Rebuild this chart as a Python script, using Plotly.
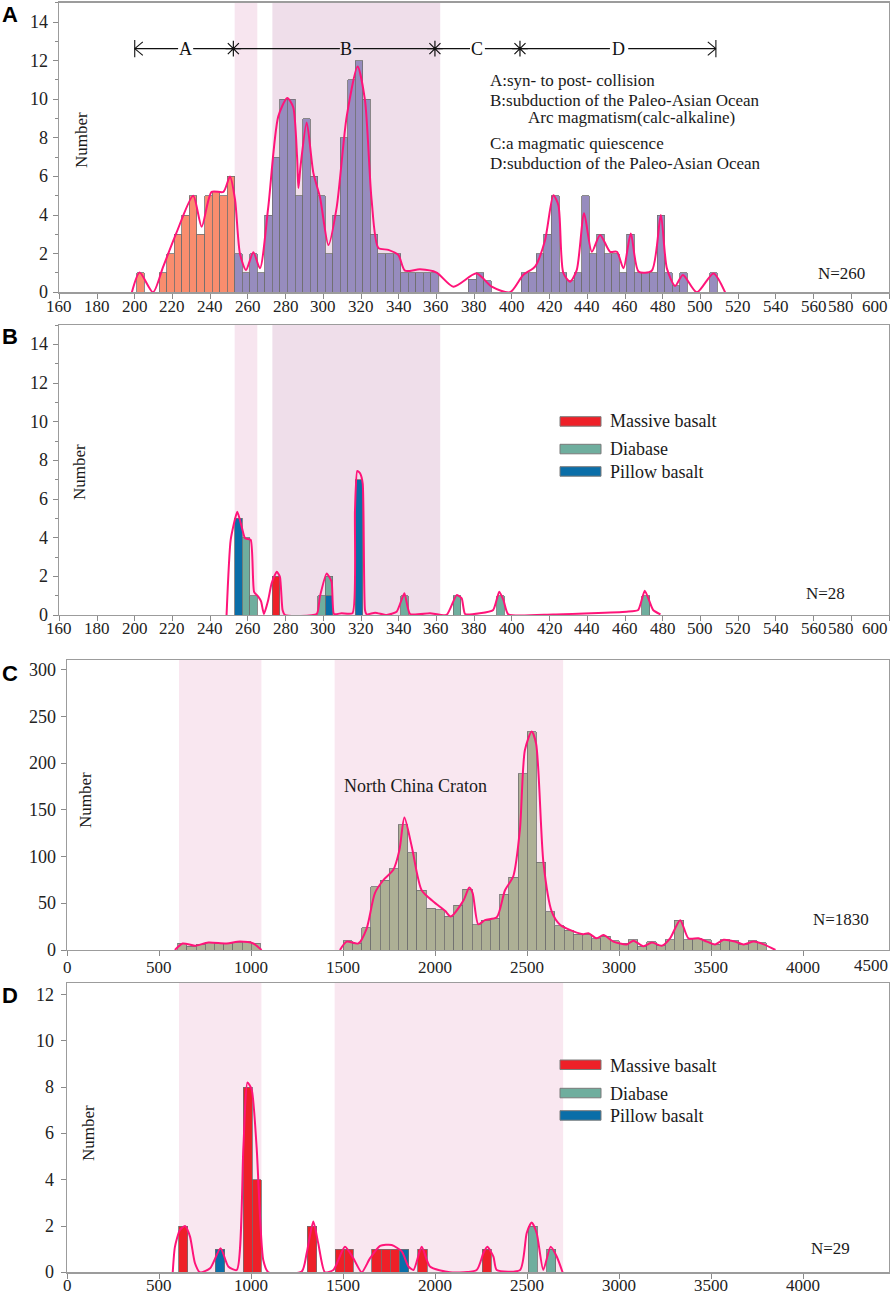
import plotly.graph_objects as go

W, H = 892, 1296

# ---------------- DATA ----------------
# Panel A histogram (bin width 4 Ma)
a_orange_x = [203, 215, 219, 223, 227, 231, 235, 239, 243, 247, 251]
a_orange_y = [1, 1, 2, 3, 4, 5, 3, 5, 5.2, 5, 6]
a_purple_x = [255, 259, 263, 267, 271, 275, 279, 283, 287, 291, 295, 299, 303, 307, 311,
              315, 319, 323, 327, 331, 335, 339, 343, 347, 351, 355, 359,
              379, 383, 387, 407, 411, 415, 419, 423, 427, 431, 435, 439, 443, 447, 451,
              455, 459, 463, 467, 471, 475, 479, 483, 487, 491, 507]
a_purple_y = [2, 1, 2, 1, 4, 7, 10, 10, 5, 9, 6, 5, 2, 4, 8,
              11, 12, 10, 3, 2, 2, 2, 1, 1, 1, 1, 1,
              0.67, 1, 0.6, 1, 1, 2, 3, 5, 1, 0.6, 1, 5, 2, 3, 2,
              2, 1, 3, 1, 1, 1, 4, 1, 0.33, 1, 1]
a_kde_x = [198.5, 202.6, 209.7, 215, 222, 231, 235.5, 240.8, 247, 250.5, 253.2, 255.8, 259,
           262.9, 266.4, 270.8, 276.1, 280.9, 284.0, 286.1, 286.8, 287.9, 291.2, 294.7, 298.3,
           302.7, 307.1, 312.4, 318.2, 322.1, 325.6, 329.2, 334.5, 339.8, 343.3, 351.3, 360.1,
           369, 381.3, 389.3, 399, 406, 412.3, 417.6, 422, 424.7, 427.3, 430.9, 434.4, 438.3,
           442.4, 446.8, 452.1, 455.7, 459.2, 463.1, 467.2, 474.2, 479, 482.2, 486.6, 490.7,
           498.1, 506.9, 513.1]
a_kde_y = [0, 1.02, 0, 1.3, 3.05, 5.0, 3.4, 5.2, 5.2, 6.0, 4.8, 2.0, 1.15,
           2.07, 1.24, 4.4, 9.1, 10.07, 9.6, 7.0, 5.4, 6.5, 8.8, 6.2, 4.9,
           2.45, 4.4, 9.1, 11.7, 9.95, 4.8, 2.3, 2.2, 1.93, 1.12, 1.19, 1.02,
           0.29, 0.98, 0.29, 0, 0.9, 1.33, 2.7, 5.03, 4.5, 1.0, 0.55, 1.15, 4.09,
           2.1, 2.97, 2.1, 2.1, 1.24, 3.05, 1.07, 1.12, 4.0, 1.24, 0.33, 0.9,
           0, 0.98, 0]

# Panel B stacked histogram by rock type
b_pillow_x = [255, 303, 319]
b_pillow_y = [5, 1, 7]
b_diabase_x = [259, 263, 299, 303, 343, 371, 394, 471]
b_diabase_y = [4, 1, 1, 1, 1, 1, 1, 1]
b_massive_x = [275]
b_massive_y = [2]
b_kde_x = [248.7, 250.9, 254.4, 256.7, 258.5, 261.5, 263.3, 265.5, 267, 268.5, 270.8, 272.6,
           275.3, 277, 278.4, 279.7, 296.5, 298.2, 301.8, 304.4, 305.7, 309.7, 315.5, 316.8,
           318, 319.5, 320.9, 322.1, 323, 327.5, 333.6, 338.9, 343, 346, 356.6, 365.4, 370.7,
           373.4, 375.2, 383, 390.1, 393.3, 395.5, 398.1, 421.9, 460.8, 467, 470.5, 474.9, 478.8]
b_kde_y = [0, 3.9, 5.34, 4.57, 3.97, 3.88, 1.2, 0.95, 0.7, 0.05, 0.78, 1.64,
           2.24, 1.98, 0.26, 0, 0.05, 0.95, 2.15, 1.72, 0.05, 0.09, 0.09, 5.4,
           7.45, 7.33, 6.8, 0.26, 0.03, 0.12, 0, 0.17, 1.12, 0.05, 0.09, 0, 1.03,
           0.86, 0.05, 0.09, 0.26, 1.2, 0.78, 0.03, 0.03, 0.17, 0.26, 1.26, 0.26, 0.03]

# Panel C histogram (bin width 50 Ma)
c_x = [625, 675, 725, 775, 825, 875, 925, 975, 1025,
       1525, 1575, 1625, 1675, 1725, 1775, 1825, 1875, 1925, 1975,
       2025, 2075, 2125, 2175, 2225, 2275, 2325, 2375, 2425, 2475,
       2525, 2575, 2625, 2675, 2725, 2775, 2825, 2875, 2925, 2975,
       3025, 3075, 3125, 3175, 3225, 3275, 3325, 3375, 3425, 3475,
       3525, 3575, 3625, 3675, 3725, 3775]
c_y = [7, 4, 6, 8, 7, 7, 8, 9, 7,
       10, 7, 24, 68, 75, 87, 134, 104, 64, 45,
       43, 36, 48, 65, 27, 32, 34, 60, 78, 189,
       234, 94, 41, 26, 21, 17, 17, 12, 15, 10,
       7, 11, 4, 9, 5, 11, 32, 11, 12, 11,
       6, 11, 10, 6, 10, 8]
c_kde_x = [585, 627, 694, 766, 866, 938, 1011, 1056, None,
           1482, 1518, 1582, 1627, 1672, 1718, 1772, 1805, 1832, 1872, 1926, 1989, 2053, 2084,
           2153, 2185, 2203, 2234, 2270, 2334, 2379, 2424, 2460, 2487, 2524, 2548, 2588, 2633,
           2678, 2751, 2805, 2832, 2877, 2914, 2968, 3041, 3077, 3131, 3177, 3231, 3276, 3331,
           3376, 3430, 3476, 3521, 3567, 3630, 3676, 3731, 3785, 3849]
c_kde_y = [0, 7, 4.6, 8, 7, 9, 7, 0, None,
           0, 9, 7, 23, 61, 75, 86, 107, 142, 111, 64, 52, 42, 36,
           53, 67, 61, 27.5, 32, 35, 64, 79, 129, 214, 234, 221, 93, 41,
           27, 20, 17, 18, 12.5, 16, 9, 6, 10, 4, 8, 4.6, 12.5, 32,
           12.5, 12.5, 9, 6, 11, 9, 6, 9, 6, 0]

# Panel D histogram by rock type
d_massive_x = [630, 980, 1030, 1330, 1480, 1530, 1680, 1730, 1780, 1930, 2280]
d_massive_y = [2, 8, 4, 2, 1, 1, 1, 1, 1, 1, 1]
d_pillow_x = [830, 1830]
d_pillow_y = [1, 1]
d_diabase_x = [2530, 2630]
d_diabase_y = [2, 1]
d_kde_x = [573, 585, 612, 640, 667, 694, 721, 776, 833, 875, 921, 957, 979, 1002, 1029, 1065,
           1093, 1274, 1301, 1337, 1364, 1400, 1446, 1509, 1555, 1600, 1645, 1700, 1763, 1818,
           1854, 1882, 1926, 1971, 2080, 2225, 2261, 2283, 2316, 2334, 2461, 2497, 2524, 2551,
           2587, 2627, 2660, 2692]
d_kde_y = [0, 1.1, 1.83, 2.0, 1.54, 0.39, 0, 0.17, 1.04, 0.25, 0.1, 5.4, 8.2, 7.9, 5.4, 0.53,
           0, 0.03, 0.82, 2.19, 1.25, 0, 0.1, 1.1, 0.6, 0, 0.6, 1.14, 1.18, 0.9,
           0.25, 0.1, 1.1, 0.25, 0, 0.1, 0.82, 1.1, 0.68, 0.1, 0.1, 1.7, 2.15, 1.7,
           0.1, 1.1, 0.68, 0]

ab_ticks = list(range(160, 601, 20))
cd_ticks = list(range(0, 4001, 500))
ab_yticks = list(range(0, 15, 2))
c_yticks = list(range(0, 301, 50))
d_yticks = list(range(0, 13, 2))
ab_bands = [(253, 265, '#F7E5EF'), (273, 362, '#EFDEEA')]
cd_bands = [(607, 1055, '#F9E7F0'), (1453, 2695, '#F9E7F0')]
legend_items = [('Massive basalt', '#EE2028'), ('Diabase', '#6FAE9E'), ('Pillow basalt', '#0A6EA8')]
period_labels = ['A', 'B', 'C', 'D']
period_label_x = [227, 312.3, 381.7, 456.8]
period_notes = ['A:syn- to post- collision', 'B:subduction of the Paleo-Asian Ocean',
                'Arc magmatism(calc-alkaline)', 'C:a magmatic quiescence',
                'D:subduction of the Paleo-Asian Ocean']

# ---------------- STYLE ----------------
SERIF = 'Liberation Serif'
KDE = '#FF1479'
EDGE = '#6f6f6f'
ORANGE = '#F98D6E'
PURPLE = '#978CBE'
OLIVE = '#ADB095'
MASSIVE, DIABASE, PILLOW = [c for _, c in legend_items]

def px(x):
    return x / W

def py(y):
    return 1 - y / H

fig = go.Figure()

def bar(x, y, color, xa, ya, width):
    fig.add_trace(go.Bar(x=x, y=y, width=width, marker=dict(color=color, line=dict(color=EDGE, width=0.8)),
                         xaxis=xa, yaxis=ya, showlegend=False, hoverinfo='skip'))

def kde(x, y, xa, ya, smooth=0.8):
    fig.add_trace(go.Scatter(x=x, y=y, mode='lines', line=dict(color=KDE, width=2, shape='spline', smoothing=smooth),
                             xaxis=xa, yaxis=ya, showlegend=False, connectgaps=False, hoverinfo='skip'))

# A
bar(a_orange_x, a_orange_y, ORANGE, 'x', 'y', 4)
bar(a_purple_x, a_purple_y, PURPLE, 'x', 'y', 4)
kde(a_kde_x, a_kde_y, 'x', 'y', 0.7)
# B (stacked)
bar(b_pillow_x, b_pillow_y, PILLOW, 'x2', 'y2', 4)
bar(b_diabase_x, b_diabase_y, DIABASE, 'x2', 'y2', 4)
bar(b_massive_x, b_massive_y, MASSIVE, 'x2', 'y2', 4)
kde(b_kde_x, b_kde_y, 'x2', 'y2', 0.5)
# C
bar(c_x, c_y, OLIVE, 'x3', 'y3', 50)
kde(c_kde_x, c_kde_y, 'x3', 'y3', 0.7)
# D
bar(d_massive_x, d_massive_y, MASSIVE, 'x4', 'y4', 50)
bar(d_pillow_x, d_pillow_y, PILLOW, 'x4', 'y4', 50)
bar(d_diabase_x, d_diabase_y, DIABASE, 'x4', 'y4', 50)
kde(d_kde_x, d_kde_y, 'x4', 'y4', 0.6)

# asterisks on period bracket
fig.add_trace(go.Scatter(x=[252.3, 359.2, 404.3], y=[12.62] * 3, mode='markers',
                         marker=dict(symbol='asterisk-open', size=13, color='#111',
                                     line=dict(color='#111', width=1.2)),
                         xaxis='x', yaxis='y', showlegend=False, hoverinfo='skip'))

axcommon = dict(showline=True, linecolor='#9c9c9c', linewidth=1.2, mirror=True, ticks='outside',
                tickcolor='#8a8a8a', ticklen=5, showgrid=False, zeroline=False, automargin=False,
                showticklabels=False)

dom_ab = [px(59.3), px(889)]
dom_cd = [px(67.3), px(889)]
minor_ab = dict(dtick=1, ticks='outside', ticklen=3, tickcolor='#8a8a8a')

fig.update_layout(
    width=W, height=H, margin=dict(l=0, r=0, t=0, b=0, autoexpand=False),
    font=dict(family=SERIF, size=17, color='#1a1a1a'),
    paper_bgcolor='white', plot_bgcolor='white', barmode='stack', bargap=0,
    xaxis=dict(axcommon, domain=dom_ab, range=[160, 600], tickvals=ab_ticks, anchor='y'),
    yaxis=dict(axcommon, domain=[py(292.3), py(2.7)], range=[0, 15], tickvals=ab_yticks, anchor='x', minor=minor_ab),
    xaxis2=dict(axcommon, domain=dom_ab, range=[160, 600], tickvals=ab_ticks, anchor='y2'),
    yaxis2=dict(axcommon, domain=[py(615), py(325)], range=[0, 15], tickvals=ab_yticks, anchor='x2', minor=minor_ab),
    xaxis3=dict(axcommon, domain=dom_cd, range=[0, 4466], tickvals=cd_ticks, anchor='y3'),
    yaxis3=dict(axcommon, domain=[py(950), py(660)], range=[0, 310.7], tickvals=c_yticks, anchor='x3'),
    xaxis4=dict(axcommon, domain=dom_cd, range=[0, 4466], tickvals=cd_ticks, anchor='y4'),
    yaxis4=dict(axcommon, domain=[py(1272.3), py(983)], range=[0, 12.5], tickvals=d_yticks, anchor='x4'),
)

shapes = []
for xr, yr, bands in [('x', 'y', ab_bands), ('x2', 'y2', ab_bands), ('x3', 'y3', cd_bands), ('x4', 'y4', cd_bands)]:
    for x0, x1, col in bands:
        shapes.append(dict(type='rect', xref=xr, yref=yr + ' domain', x0=x0, x1=x1, y0=0, y1=1,
                           fillcolor=col, line=dict(width=0), layer='below'))

# period bracket in panel A
yb = 12.62
line_style = dict(color='#111', width=1.1)
for x0, x1 in [(200, 223), (231, 308.8), (315.9, 377.8), (385.7, 452), (461.7, 508.2)]:
    shapes.append(dict(type='line', xref='x', yref='y', x0=x0, x1=x1, y0=yb, y1=yb, line=line_style))
for xe, d in [(200, 1), (508.2, -1)]:
    shapes.append(dict(type='line', xref='x', yref='y', x0=xe, x1=xe, y0=yb - 0.45, y1=yb + 0.45, line=line_style))
    shapes.append(dict(type='line', xref='x', yref='y', x0=xe, x1=xe + 4.3 * d, y0=yb, y1=yb + 0.35, line=line_style))
    shapes.append(dict(type='line', xref='x', yref='y', x0=xe, x1=xe + 4.3 * d, y0=yb, y1=yb - 0.35, line=line_style))

# legends (B and D)
for top_offsets in [[416.7, 444.3, 466.7], [1060, 1088.3, 1110.7]]:
    for (name, col), ty in zip(legend_items, top_offsets):
        shapes.append(dict(type='rect', xref='paper', yref='paper', x0=px(560), x1=px(601),
                           y0=py(ty + 9.5), y1=py(ty), fillcolor=col, line=dict(color='#7a7a7a', width=1)))
fig.update_layout(shapes=shapes)

ann = []
def text(t, x, y, size=17, anchor='center', angle=0, family=SERIF, bold=False, color='#1a1a1a'):
    ann.append(dict(text=('<b>%s</b>' % t) if bold else t, x=px(x), y=py(y), xref='paper', yref='paper',
                    showarrow=False, xanchor=anchor, yanchor='middle', textangle=angle,
                    font=dict(family=family, size=size, color=color)))

TICKFONT = dict(family=SERIF, size=17, color='#222')
# x tick labels (serif), drawn against each axis' own scale
for xa, vals, ypix, skip in [('x', ab_ticks, 306, (580, 600)), ('x2', ab_ticks, 628.7, (580, 600)),
                             ('x3', cd_ticks, 967, ()), ('x4', cd_ticks, 1285.5, ())]:
    for v in vals:
        if v in skip:
            continue
        ann.append(dict(text=str(v), x=v, xref=xa, y=py(ypix), yref='paper', showarrow=False,
                        xanchor='center', yanchor='middle', font=TICKFONT))
# y tick labels
for ya, vals, xpix in [('y', ab_yticks, 49.5), ('y2', ab_yticks, 49.5), ('y3', c_yticks, 57.5), ('y4', d_yticks, 56)]:
    for v in vals:
        ann.append(dict(text=str(v), x=px(xpix), xref='paper', y=v, yref=ya, showarrow=False,
                        xanchor='right', yanchor='middle', font=dict(TICKFONT, size=18)))

for lab, lx in zip(period_labels, period_label_x):
    ann.append(dict(text=lab, x=lx, y=yb, xref='x', yref='y', showarrow=False, xanchor='center', yanchor='middle',
                    font=dict(family=SERIF, size=18, color='#111')))

text(period_notes[0], 488.3, 80, 17, 'left')
text(period_notes[1], 488.3, 100, 17, 'left')
text(period_notes[2], 526, 117.5, 17, 'left')
text(period_notes[3], 488.3, 143.3, 17, 'left')
text(period_notes[4], 488.3, 163.3, 17, 'left')

text('N=260', 841, 273, 17)
text('N=28', 825, 593, 17)
text('N=1830', 841, 919, 17)
text('N=29', 830, 1248, 17)
text('North China Craton', 415, 786, 18)

text('Number', 81, 140, 17, angle=-90)
text('Number', 79, 472, 17, angle=-90)
text('Number', 85, 800, 17, angle=-90)
text('Number', 88, 1133, 17, angle=-90)

for (name, col), ty in zip(legend_items, [421.5, 449, 471.5]):
    text(name, 608, ty, 18, 'left')
for (name, col), ty in zip(legend_items, [1065.5, 1093.5, 1116]):
    text(name, 608, ty, 18, 'left')

# squeezed right-edge tick labels
for yax in [306, 628.7]:
    text('580', 841, yax, 17, color='#222')
    text('600', 875, yax, 17, color='#222')
text('4500', 871, 965, 17, color='#222')

for lab, ly in zip(period_labels, [15, 336, 673, 995]):
    text(lab, 10, ly, 22, family='Liberation Sans', bold=True, color='#000')

fig.update_layout(annotations=ann)
fig.write_html('out.html', config={'displayModeBar': False, 'staticPlot': True},
               post_script="document.body.style.margin='0px';document.body.style.padding='0px';"
                           "document.body.style.overflow='hidden';")
